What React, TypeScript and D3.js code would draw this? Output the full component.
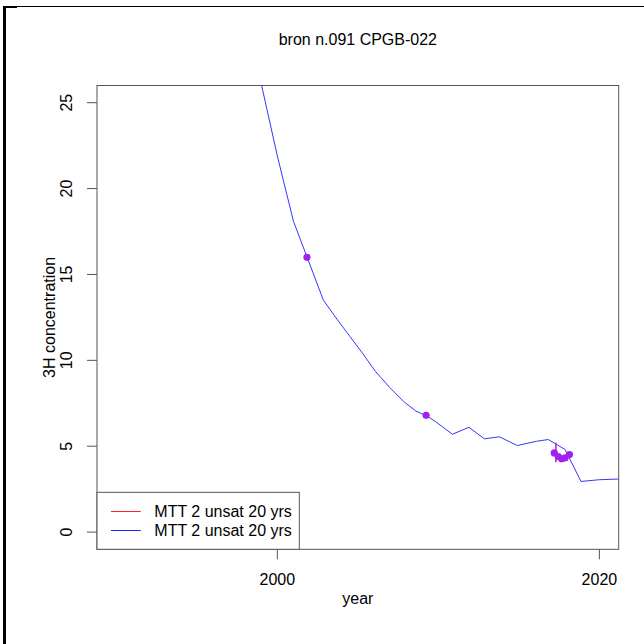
import React from 'react'
import * as d3 from 'd3'

// model curve (MTT 2 unsat 20 yrs)
const lineYears = [1998, 1999, 2000, 2001, 2002.86, 2003.7, 2004.5, 2005.3, 2006.1, 2007.0, 2007.85, 2008.6, 2009.3, 2009.8, 2010.87, 2011.9, 2012.86, 2013.79, 2014.9, 2016.1, 2016.83, 2017.35, 2017.87, 2018.86, 2020, 2021.5]
const lineValues = [30.5, 26.1, 21.9, 18.1, 13.5, 12.4, 11.4, 10.4, 9.35, 8.4, 7.6, 7.05, 6.75, 6.45, 5.7, 6.1, 5.43, 5.55, 5.04, 5.29, 5.39, 5.1, 4.81, 2.95, 3.05, 3.1]

// measured samples
const obsYears = [2001.84, 2009.24, 2017.2, 2017.45, 2017.66, 2017.87, 2018.14]
const obsValues = [16.0, 6.8, 4.61, 4.4, 4.27, 4.32, 4.52]
const errYears = [2017.3]
const errLow = [4.07]
const errHigh = [5.2]

const xTicks = [2000, 2020]
const yTicks = [0, 5, 10, 15, 20, 25]
const legendLabels = ['MTT 2 unsat 20 yrs', 'MTT 2 unsat 20 yrs']
const legendColors = ['#ff2020', '#2020ff']

const FONT = 'Liberation Sans, Arial, sans-serif'
const AXIS = '#555'

export default function App() {
  const left = 97, right = 618.7, top = 85.5, bottom = 549.3
  const x = d3.scaleLinear().domain([1988.8, 2021.2]).range([left, right])
  const y = d3.scaleLinear().domain([-1, 26]).range([bottom, top])

  const pts = lineYears.map((yr, i) => [yr, lineValues[i]] as [number, number])
  const line = d3.line<[number, number]>().x((d) => x(d[0])).y((d) => y(d[1]))
  const path = line(pts) || ''
  const cx = (left + right) / 2
  const cy = (top + bottom) / 2

  return (
    <svg width={644} height={644} style={{ position: 'absolute', left: 0, top: 0, background: '#fff' }} fontFamily={FONT}>
      <defs>
        <clipPath id="plot">
          <rect x={left} y={top} width={right - left} height={bottom - top} />
        </clipPath>
      </defs>
      {/* outer frame bits */}
      <rect x={3} y={6} width={3} height={638} fill="#000" />
      <rect x={3} y={6} width={641} height={1} fill="#000" />
      <rect x={3} y={6} width={14} height={2} fill="#000" />

      <text x={cx} y={45} textAnchor="middle" fontSize={16} fill="#000">bron n.091 CPGB-022</text>

      <g clipPath="url(#plot)">
        <path d={path} fill="none" stroke="#3535ff" strokeWidth={1} />
        {errYears.map((yr, i) => (
          <line key={'e' + i} x1={x(yr)} x2={x(yr)} y1={y(errLow[i])} y2={y(errHigh[i])} stroke="#a020f0" strokeWidth={1.5} />
        ))}
        {obsYears.map((yr, i) => (
          <circle key={'o' + i} cx={x(yr)} cy={y(obsValues[i])} r={3.6} fill="#a020f0" />
        ))}
      </g>

      <rect x={left} y={top} width={right - left} height={bottom - top} fill="none" stroke={AXIS} strokeWidth={1} />

      {/* y axis */}
      {yTicks.map((t) => (
        <g key={'y' + t}>
          <line x1={left - 10} x2={left} y1={y(t)} y2={y(t)} stroke={AXIS} />
          <text transform={`translate(72,${y(t)}) rotate(-90)`} textAnchor="middle" fontSize={16} fill="#000">{t}</text>
        </g>
      ))}
      <text transform={`translate(55,${cy}) rotate(-90)`} textAnchor="middle" fontSize={16} fill="#000">3H concentration</text>

      {/* x axis */}
      {xTicks.map((t) => (
        <g key={'x' + t}>
          <line x1={x(t)} x2={x(t)} y1={bottom} y2={bottom + 10} stroke={AXIS} />
          <text x={x(t)} y={585} textAnchor="middle" fontSize={16} fill="#000">{t}</text>
        </g>
      ))}
      <text x={cx} y={604} textAnchor="middle" fontSize={16} fill="#000">year</text>

      {/* legend */}
      <rect x={left} y={492.3} width={299.3 - left} height={bottom - 492.3} fill="#fff" stroke={AXIS} />
      {legendLabels.map((lab, i) => (
        <g key={'l' + i}>
          <line x1={111} x2={140.7} y1={511.5 + i * 19} y2={511.5 + i * 19} stroke={legendColors[i]} />
          <text x={154.3} y={517 + i * 19} fontSize={16} fill="#000">{lab}</text>
        </g>
      ))}
    </svg>
  )
}
